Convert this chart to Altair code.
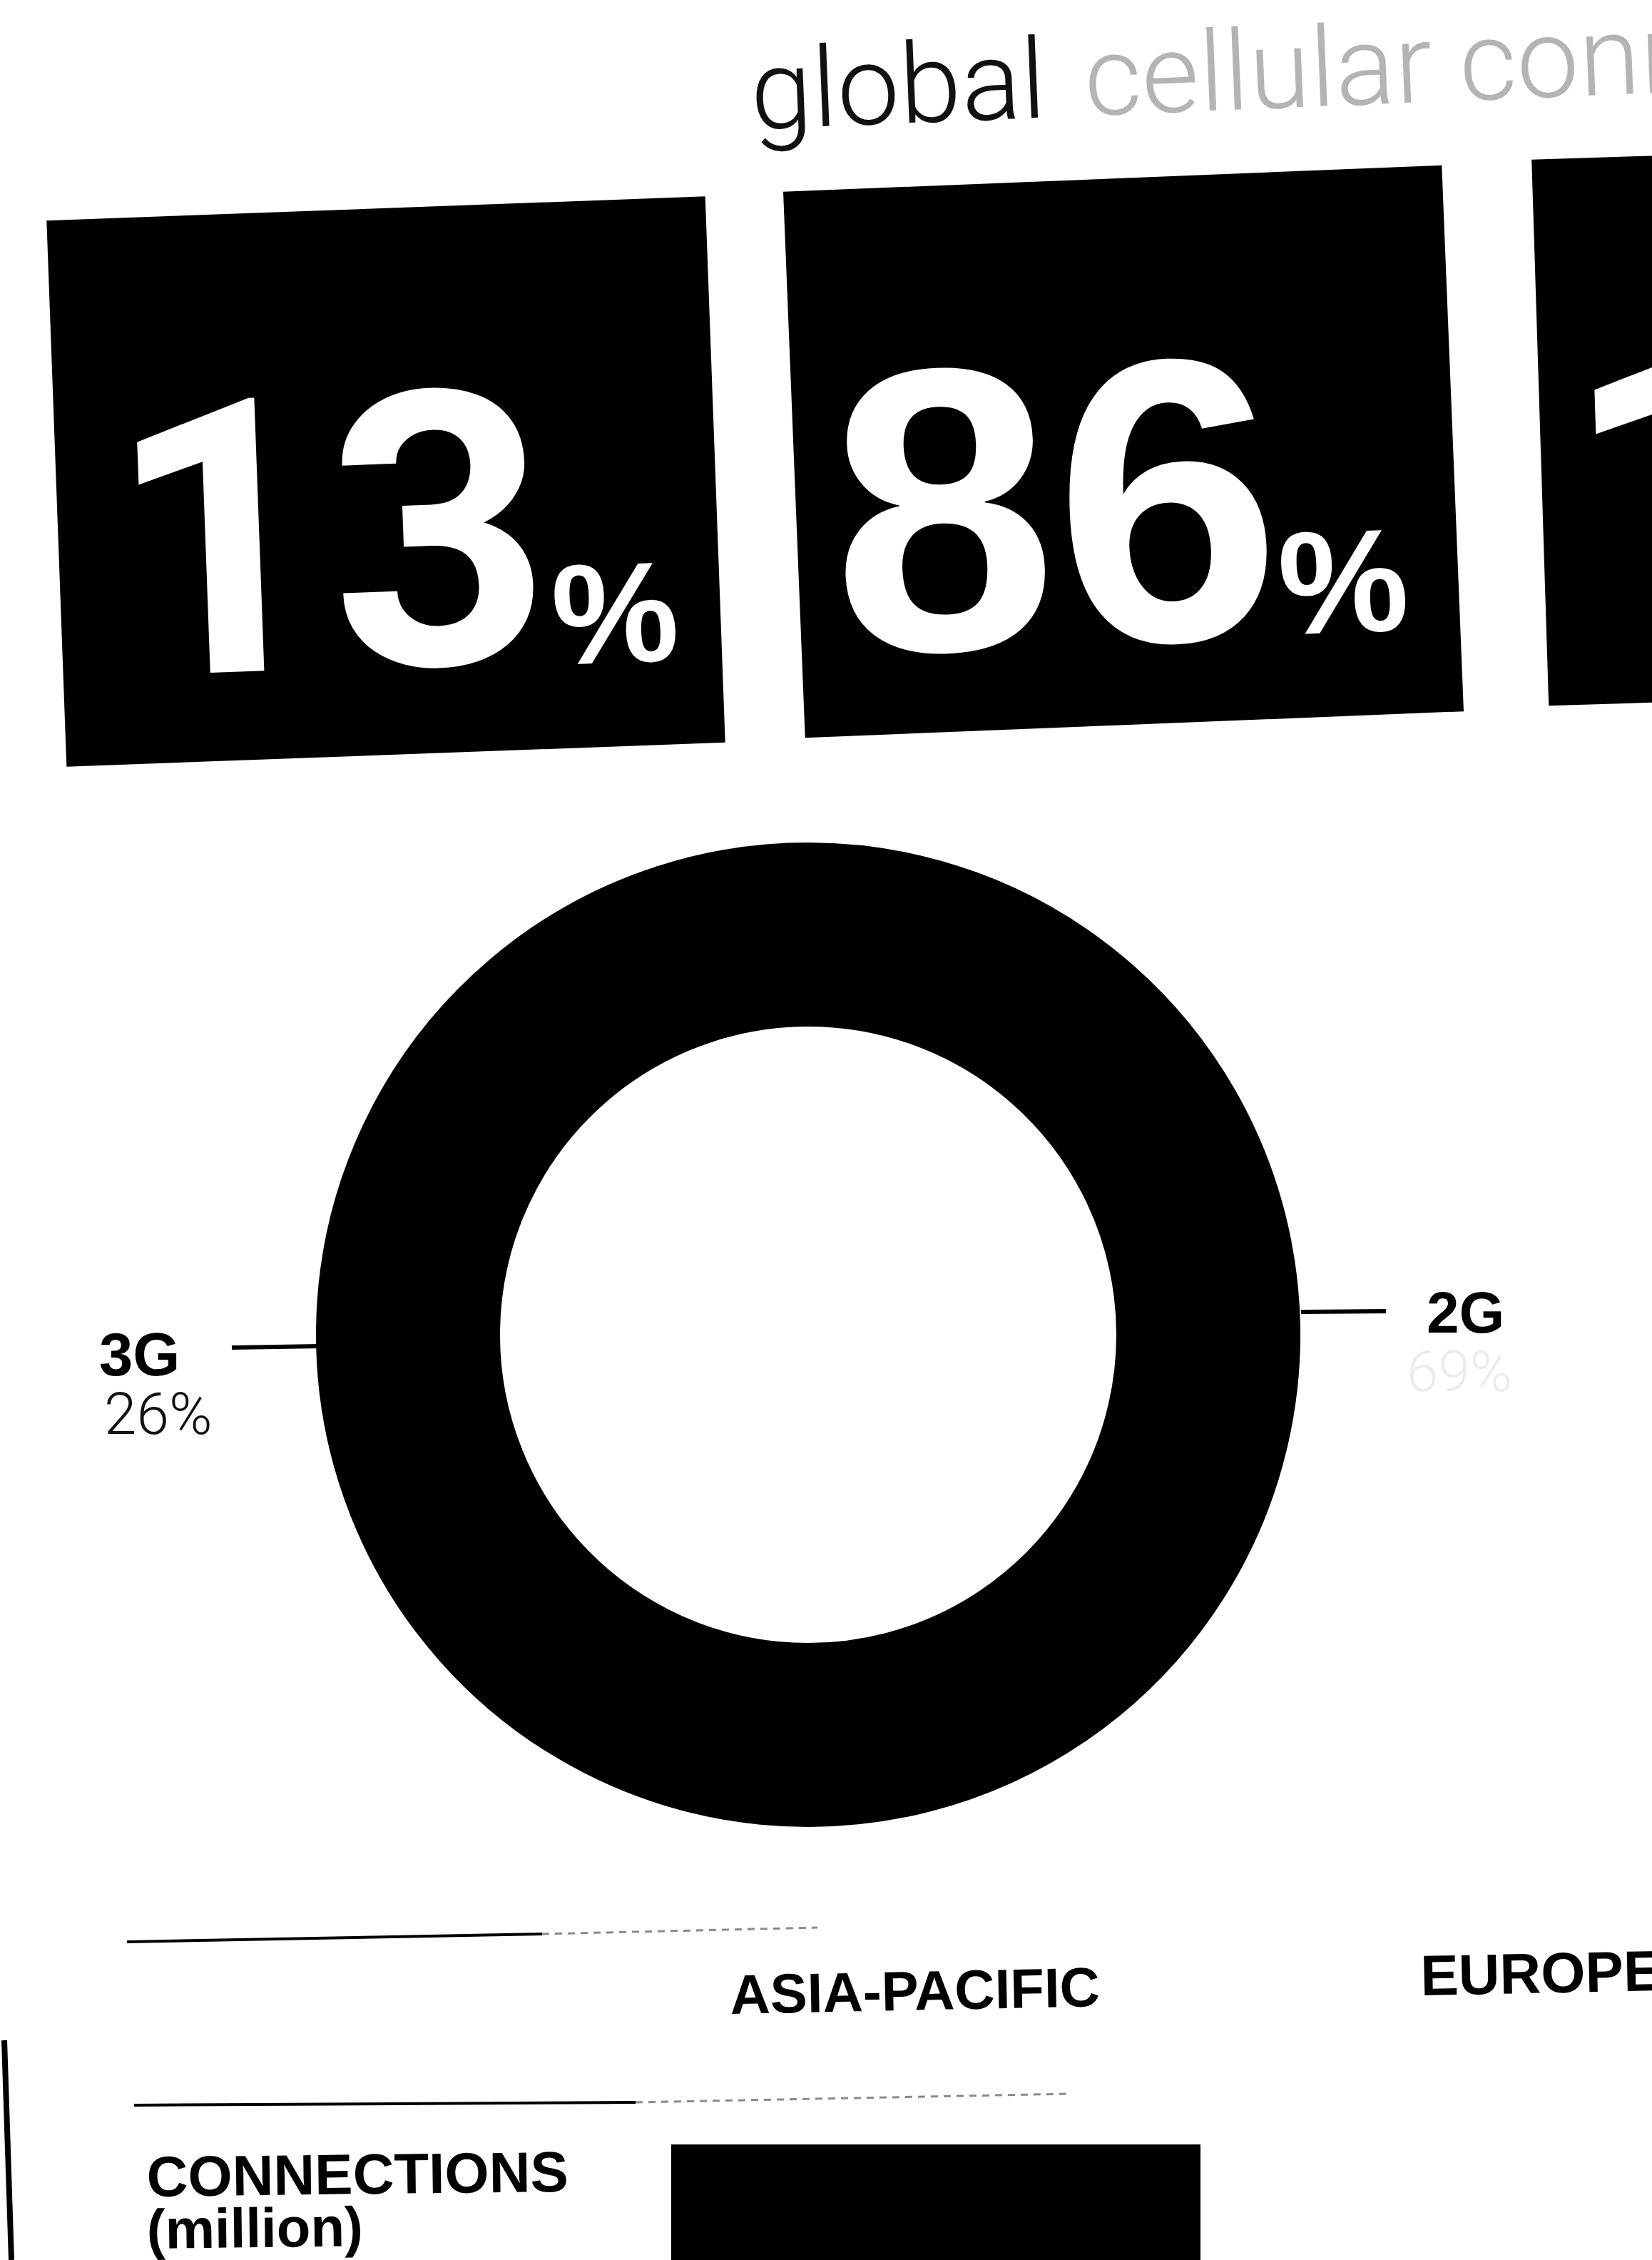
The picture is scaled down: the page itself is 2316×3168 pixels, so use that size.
import altair as alt
import pandas as pd

W, H = 2316, 3168

# ---------------- data ----------------
title_words = ["global", "cellular connections"]
stat_numbers = ["13", "86", "1"]
stat_units = ["%", "%", ""]
techs = ["2G", "3G", "4G"]
tech_share = [69, 26, 5]
label_techs = ["3G", "2G"]
label_pcts = ["26%", "69%"]
regions = ["ASIA-PACIFIC", "EUROPE"]
row_labels = ["CONNECTIONS", "(million)"]

# ---------------- layout (pixels) ----------------
box_cx = [541, 1575, 2621]
box_cy = [675, 633, 592]
box_ang = [357.9, 357.7, 358.2]
BOX_W, BOX_H = 924, 766
hr = BOX_H / BOX_W
box_path = f"M-1,-{hr:.4f}L1,-{hr:.4f}L1,{hr:.4f}L-1,{hr:.4f}Z"

# numbers with a "1" use a foot-less sans (Roboto); the others Liberation Sans
num_font = ["Roboto", "Liberation Sans", "Roboto"]
num_x = [160, 1172, 2200]
num_y = [948, 917, 888]
num_size = [538, 566, 560]
unit_x = [776, 1795]
unit_y = [932, 890]
unit_size = [200, 205]

DONUT_CX, DONUT_CY, R_OUT, R_IN = 1133, 1871, 689, 433

xs = alt.Scale(domain=[0, W], nice=False, zero=False)
ys = alt.Scale(domain=[0, H], nice=False, zero=False, reverse=True)


def X(f):
    return alt.X(f, type="quantitative", scale=xs, axis=None)


def Y(f):
    return alt.Y(f, type="quantitative", scale=ys, axis=None)


# ---- black stat boxes (rotated rectangles) ----
boxes = pd.DataFrame({"x": box_cx, "y": box_cy, "ang": box_ang})
box_layer = alt.Chart(boxes).mark_point(
    shape=box_path, size=BOX_W ** 2, filled=True, opacity=1, color="black", strokeWidth=0
).encode(x=X("x"), y=Y("y"), angle=alt.Angle("ang:Q", scale=None))

# ---- big white numbers and % signs ----
stat_rows = []
for i, t in enumerate(stat_numbers):
    stat_rows.append({"t": t, "x": num_x[i], "y": num_y[i], "s": num_size[i],
                      "a": box_ang[i], "f": num_font[i]})
    if stat_units[i]:
        stat_rows.append({"t": stat_units[i], "x": unit_x[i], "y": unit_y[i], "s": unit_size[i],
                          "a": box_ang[i], "f": "Liberation Sans"})
stats = pd.DataFrame(stat_rows)


def white_text(font):
    return alt.Chart(stats[stats["f"] == font]).mark_text(
        font=font, fontWeight="bold", color="white", align="left", baseline="alphabetic"
    ).encode(x=X("x"), y=Y("y"), text="t:N",
             size=alt.Size("s:Q", scale=None), angle=alt.Angle("a:Q", scale=None))


num_layer_a = white_text("Roboto")
num_layer_b = white_text("Liberation Sans")

# ---- donut ----
donut = pd.DataFrame({"tech": techs, "share": tech_share})
donut_layer = alt.Chart(donut).mark_arc(
    radius=R_OUT, radius2=R_IN, color="black", stroke="black", strokeWidth=2
).encode(theta=alt.Theta("share:Q", stack=True),
         order=alt.Order("tech:N"),
         x=alt.value(DONUT_CX), y=alt.value(DONUT_CY))

# ---- rules: leader lines, separators, edge ----
rules = pd.DataFrame({
    "x": [325, 1824, 178, 188, 6],
    "x2": [448, 1943, 760, 891, 16],
    "y": [1889, 1839, 2722, 2951, 2860],
    "y2": [1887, 1838, 2711, 2947, 3168],
    "w": [6, 6, 4, 4, 8],
})
rule_layer = alt.Chart(rules).mark_rule(color="black").encode(
    x=X("x"), x2="x2", y=Y("y"), y2="y2", strokeWidth=alt.StrokeWidth("w:Q", scale=None))

faded = pd.DataFrame({"x": [760, 891], "x2": [1146, 1499], "y": [2711, 2947], "y2": [2702, 2935]})
faded_layer = alt.Chart(faded).mark_rule(color="#8a8a8a", strokeWidth=3, strokeDash=[10, 8]).encode(
    x=X("x"), x2="x2", y=Y("y"), y2="y2")

# ---- connections bar (Asia-Pacific), running off the page ----
bar = pd.DataFrame({"x": [941], "x2": [1683], "y": [3006], "y2": [H]})
bar_layer = alt.Chart(bar).mark_rect(color="black").encode(x=X("x"), x2="x2", y=Y("y"), y2="y2")

# ---- bold black labels ----
bold = pd.DataFrame({
    "t": [label_techs[0], label_techs[1], regions[0], regions[1], row_labels[0], row_labels[1]],
    "x": [139, 2000, 1024, 1992, 206, 206],
    "y": [1928, 1868, 2823, 2797, 3079, 3152],
    "s": [85, 82, 78, 80, 80, 78],
    "a": [0, 0, 358.8, 358.8, 359.3, 359.3],
})
bold_layer = alt.Chart(bold).mark_text(
    font="Liberation Sans", fontWeight="bold", color="black", align="left", baseline="alphabetic"
).encode(x=X("x"), y=Y("y"), text="t:N",
         size=alt.Size("s:Q", scale=None), angle=alt.Angle("a:Q", scale=None))

# ---- light text: title and percentages ----
light = pd.DataFrame({
    "t": [title_words[0], title_words[1], label_pcts[0], label_pcts[1]],
    "x": [1054, 1522, 146, 1972],
    "y": [181, 162, 2010, 1950],
    "s": [156, 156, 82, 80],
    "a": [357.7, 357.7, 0, 0],
    "c": ["#111111", "#b4b4b4", "#111111", "#ececec"],
})
light_layer = alt.Chart(light).mark_text(
    font="Roboto", fontWeight=300, align="left", baseline="alphabetic"
).encode(x=X("x"), y=Y("y"), text="t:N",
         size=alt.Size("s:Q", scale=None), angle=alt.Angle("a:Q", scale=None),
         color=alt.Color("c:N", scale=None))

chart = alt.layer(
    box_layer, num_layer_a, num_layer_b, donut_layer, rule_layer, faded_layer, bar_layer,
    bold_layer, light_layer
).properties(
    width=W, height=H, autosize="none", padding=0, background="white"
).configure_view(strokeWidth=0)

chart.save("out.html", embed_options={"renderer": "svg", "actions": False})
